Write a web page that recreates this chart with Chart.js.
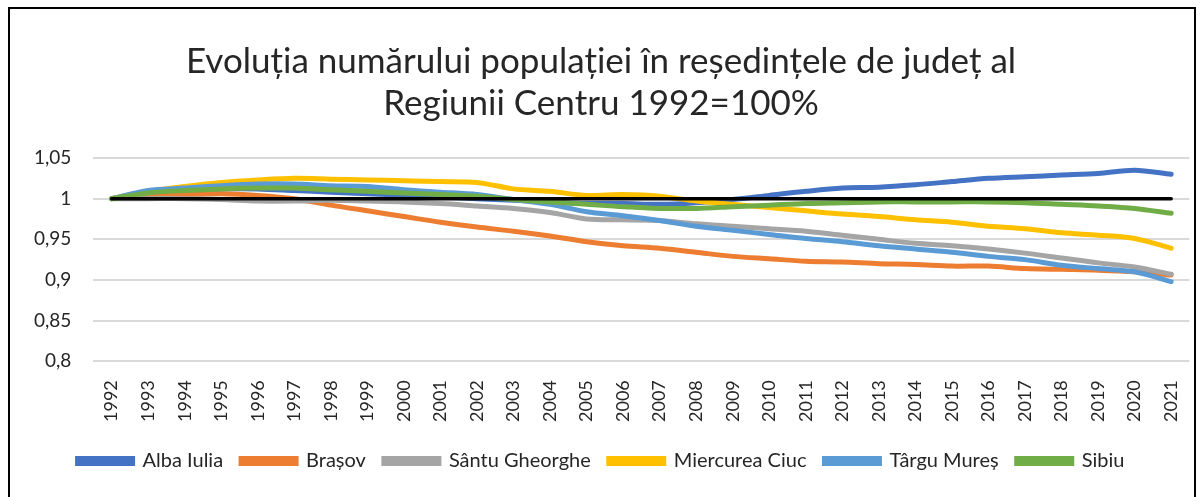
<!DOCTYPE html>
<html>
<head>
<meta charset="utf-8">
<style>
  html, body { margin: 0; padding: 0; background: #fff; }
  #frame { position: absolute; left: 8px; top: 7px; width: 1188px; height: 520px; border: 2px solid #000; box-sizing: border-box; }
  #wrap { position: absolute; left: 0; top: 0; width: 1204px; height: 497px; }
</style>
</head>
<body>
<div id="frame"></div>
<div id="wrap"><canvas id="popChart" width="1204" height="497"></canvas></div>

<script src="https://cdn.jsdelivr.net/npm/chart.js"></script>
<script>
  // ani 1992-2021, valori relative (1992 = 1)
  const ani = ['1992','1993','1994','1995','1996','1997','1998','1999','2000','2001',
               '2002','2003','2004','2005','2006','2007','2008','2009','2010','2011',
               '2012','2013','2014','2015','2016','2017','2018','2019','2020','2021'];

  const albaIulia = [1.000,1.008,1.010,1.012,1.012,1.010,1.008,1.006,1.004,1.002,
                     1.000,0.998,0.996,0.994,0.994,0.993,0.995,0.999,1.004,1.009,
                     1.013,1.014,1.017,1.021,1.025,1.027,1.029,1.031,1.035,1.030];
  const brasov = [1.000,1.003,1.005,1.006,1.004,1.000,0.992,0.985,0.978,0.971,
                  0.965,0.960,0.954,0.947,0.942,0.939,0.934,0.929,0.926,0.923,
                  0.922,0.920,0.919,0.917,0.917,0.914,0.913,0.912,0.910,0.906];
  const santuGheorghe = [1.000,1.000,1.000,0.999,0.997,0.997,0.998,0.997,0.996,0.994,
                         0.991,0.988,0.983,0.975,0.974,0.973,0.969,0.966,0.963,0.960,
                         0.955,0.950,0.945,0.942,0.938,0.933,0.927,0.921,0.916,0.907];
  const miercureaCiuc = [1.000,1.009,1.015,1.020,1.023,1.025,1.024,1.023,1.022,1.021,
                         1.020,1.012,1.009,1.004,1.005,1.003,0.997,0.993,0.989,0.985,
                         0.981,0.978,0.974,0.971,0.966,0.963,0.958,0.955,0.951,0.939];
  const targuMures = [1.000,1.010,1.013,1.016,1.018,1.018,1.016,1.015,1.011,1.008,
                      1.005,0.999,0.993,0.984,0.979,0.973,0.966,0.961,0.956,0.951,
                      0.947,0.942,0.938,0.934,0.929,0.925,0.918,0.914,0.910,0.898];
  const sibiu = [1.000,1.007,1.010,1.012,1.013,1.013,1.011,1.009,1.007,1.005,
                 1.003,0.999,0.996,0.993,0.990,0.988,0.988,0.990,0.992,0.994,
                 0.995,0.996,0.996,0.996,0.996,0.995,0.993,0.991,0.988,0.982];
  const referinta = ani.map(() => 1);

  const font = 'Lato';

  const serie = (label, data, color, order) => ({
    label, data, borderColor: color, backgroundColor: color,
    borderWidth: 5, pointRadius: 0, tension: 0.3, fill: false, order,
    borderCapStyle: 'round'
  });

  new Chart(document.getElementById('popChart').getContext('2d'), {
    type: 'line',
    data: {
      labels: ani,
      datasets: [
        serie('Alba Iulia', albaIulia, '#4472C4', 6),
        serie('Brașov', brasov, '#ED7D31', 5),
        serie('Sântu Gheorghe', santuGheorghe, '#A5A5A5', 4),
        serie('Miercurea Ciuc', miercureaCiuc, '#FFC000', 3),
        serie('Târgu Mureș', targuMures, '#5B9BD5', 2),
        serie('Sibiu', sibiu, '#70AD47', 1),
        Object.assign(serie('1992', referinta, '#000000', 0), { borderWidth: 3.5, tension: 0 })
      ]
    },
    options: {
      responsive: false,
      animation: false,
      layout: { padding: { left: 12, right: 14, bottom: 16 } },
      plugins: {
        title: {
          display: true,
          text: ['Evoluția numărului populației în reședințele de județ al', 'Regiunii Centru 1992=100%'],
          font: { family: font, size: 35, weight: 'normal', lineHeight: 1.2 },
          color: '#262626',
          padding: { top: 41, bottom: 33 }
        },
        legend: {
          position: 'bottom',
          labels: {
            filter: item => item.datasetIndex < 6,
            sort: (a, b) => a.datasetIndex - b.datasetIndex,
            boxWidth: 55, boxHeight: 5,
            font: { family: font, size: 20 },
            color: '#262626',
            padding: 18
          }
        },
        tooltip: { enabled: false }
      },
      scales: {
        x: {
          offset: true,
          grid: { display: false },
          border: { display: false },
          ticks: {
            maxRotation: 90, minRotation: 90, autoSkip: false,
            font: { family: font, size: 18 }, color: '#262626', padding: 11
          }
        },
        y: {
          min: 0.8, max: 1.05,
          grid: { color: '#d9d9d9', lineWidth: 2, drawTicks: false },
          border: { display: false },
          ticks: {
            stepSize: 0.05,
            font: { family: font, size: 19 }, color: '#262626', padding: 22,
            callback: v => String(+v.toFixed(2)).replace('.', ',')
          }
        }
      }
    }
  });
</script>
</body>
</html>
